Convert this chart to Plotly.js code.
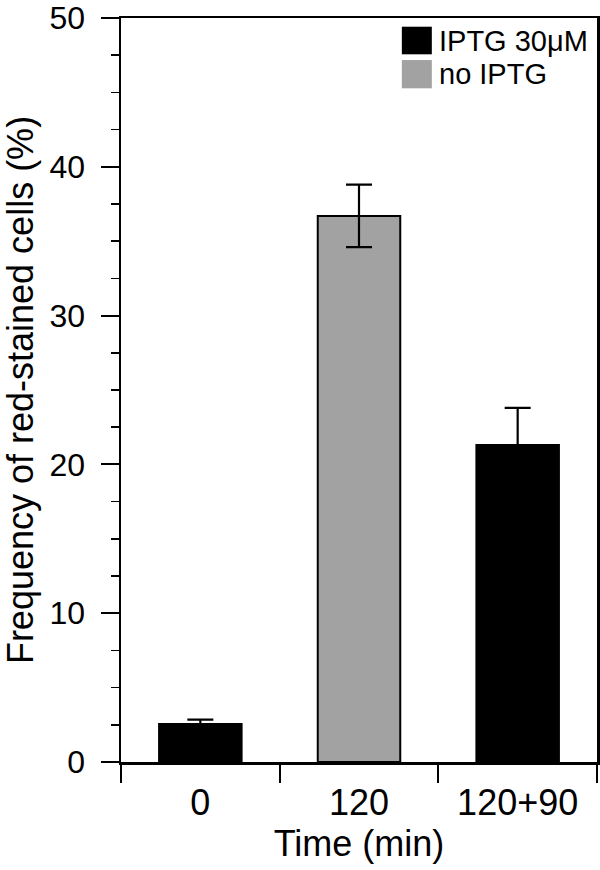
<!DOCTYPE html>
<html>
<head>
<meta charset="utf-8">
<script src="https://cdn.plot.ly/plotly-3.0.1.min.js"></script>
<style>html,body{margin:0;padding:0;background:#fff;}#chart{width:600px;height:870px;}</style>
</head>
<body>
<div id="chart"></div>
<script>
// ---- data ----
const categories = ['0', '120', '120+90'];
const values = [2.55, 36.7, 21.3];
const errors = [0.3, 2.1, 2.5];
const groupOfBar = [0, 1, 0];          // 0 = IPTG 30μM, 1 = no IPTG
const legendLabels = ['IPTG 30μM', 'no IPTG'];
const xTitle = 'Time (min)';
const yTitle = 'Frequency of red-stained cells (%)';

// ---- styles ----
const groupColors = ['#000000', '#a2a2a2'];
const FONT = 'Liberation Sans, Arial, Helvetica, sans-serif';

const trace = {
  type: 'bar',
  x: categories,
  y: values,
  width: 0.52,
  marker: {
    color: groupOfBar.map(g => groupColors[g]),
    line: {color: '#000', width: 2}
  },
  error_y: {type: 'data', array: errors, visible: true, color: '#000', thickness: 2.2, width: 13},
  showlegend: false,
  hoverinfo: 'none'
};

// legend drawn as paper shapes + text
const legX0 = 0.590, legX1 = 0.653, legTextX = 0.664;
const legRows = [[0.9512, 0.9883, 0.969], [0.9055, 0.9435, 0.9247]];
const shapes = legendLabels.map((t, i) => ({
  type: 'rect', xref: 'paper', yref: 'paper',
  x0: legX0, x1: legX1, y0: legRows[i][0], y1: legRows[i][1],
  fillcolor: groupColors[i], line: {width: 0}
}));
const annotations = legendLabels.map((t, i) => ({
  xref: 'paper', yref: 'paper', x: legTextX, y: legRows[i][2],
  xanchor: 'left', yanchor: 'middle', showarrow: false,
  text: t, font: {family: FONT, size: 29, color: '#000'}
}));

const layout = {
  width: 600, height: 870,
  margin: {l: 121, r: 3, t: 18, b: 108},
  paper_bgcolor: '#fff', plot_bgcolor: '#fff',
  font: {family: FONT, color: '#000'},
  xaxis: {
    type: 'category',
    range: [-0.5, 2.5],
    tickson: 'boundaries',
    ticks: 'outside', ticklen: 18, tickwidth: 2, tickcolor: '#000',
    showline: true, linewidth: 2.5, linecolor: '#000', mirror: true,
    showgrid: false, zeroline: false,
    tickfont: {family: FONT, size: 36, color: '#000'},
    ticklabelstandoff: 7,
    title: {text: xTitle, font: {family: FONT, size: 36, color: '#000'}, standoff: 5},
    automargin: false,
    fixedrange: true
  },
  yaxis: {
    range: [0, 50], dtick: 10, tick0: 0,
    ticks: 'outside', ticklen: 18, tickwidth: 2, tickcolor: '#000',
    minor: {dtick: 2.5, ticks: 'outside', ticklen: 8, tickwidth: 1.5, tickcolor: '#000', showgrid: false},
    showline: true, linewidth: 2.5, linecolor: '#000', mirror: true,
    showgrid: false, zeroline: false,
    tickfont: {family: FONT, size: 32, color: '#000'},
    ticklabelstandoff: 9,
    title: {text: yTitle, font: {family: FONT, size: 36, color: '#000'}, standoff: 9},
    automargin: false,
    fixedrange: true
  },
  shapes: shapes,
  annotations: annotations
};

Plotly.newPlot('chart', [trace], layout, {displayModeBar: false, staticPlot: true});
</script>
</body>
</html>
